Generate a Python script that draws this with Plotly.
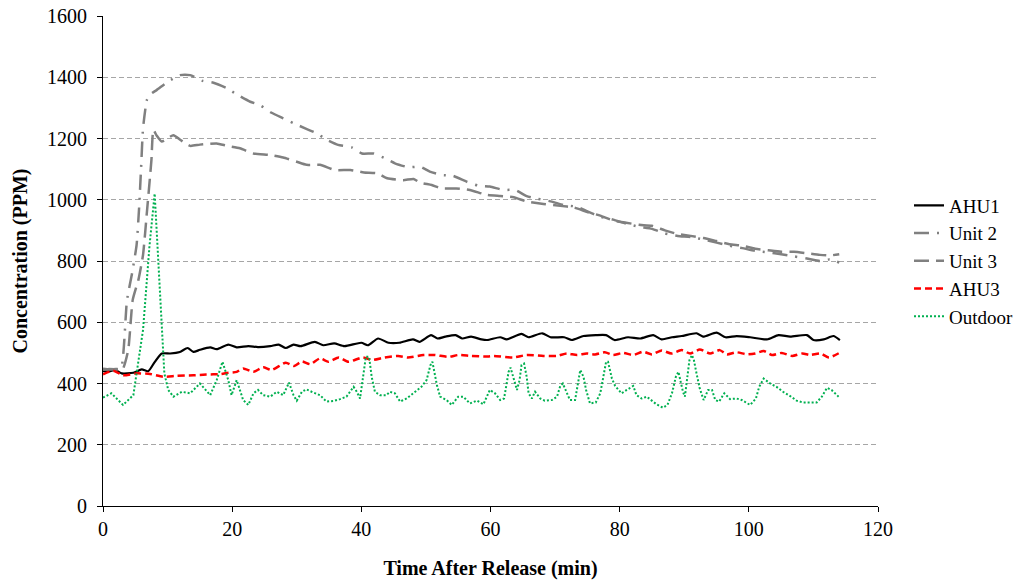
import plotly.graph_objects as go

# ---------------- data ----------------
ahu1_t = [0, 1, 1.9, 2.9, 4.7, 6, 7, 8, 9.1, 10.4, 11.9, 13.1, 14, 15, 16.6, 17.6, 19.4, 20.7, 22.5, 24, 25.9,
          27.2, 28.3, 29.5, 30.6, 32.8, 34.1, 35.8, 37.4, 40, 41, 42.6, 44.2, 45.9, 48, 49, 50.8, 51.8, 53, 54.6,
          55.6, 57, 58.6, 59.5, 61.5, 62.5, 64.8, 65.9, 68, 69.3, 71.4, 72.6, 74.4, 76.3, 77.9, 79.2, 81.3, 83.2,
          85.2, 86.5, 88.1, 89.6, 91.9, 92.9, 95, 96.4, 98.1, 100.2, 102.8, 104.6, 106.4, 109, 110, 111.6, 113.1, 114.1]
ahu1_v = [440, 440, 444, 433, 435, 446, 440, 470, 498, 498, 503, 516, 503, 510, 518, 512, 527, 518, 522, 519, 522,
          527, 516, 527, 522, 536, 525, 531, 522, 533, 525, 547, 533, 533, 544, 536, 558, 547, 553, 558,
          547, 553, 544, 542, 551, 544, 562, 551, 564, 551, 551, 542, 555, 558, 558, 542, 551, 547,
          558, 544, 551, 555, 564, 553, 566, 551, 555, 551, 544, 558, 553, 558, 542, 544, 555, 542]

unit2_t = [0, 1, 2, 2.8, 3.7, 4.5, 5.2, 5.6, 5.9, 6.2, 6.8, 7.3, 8.3, 10.1, 11.9, 13.5, 15.3, 17.1, 19.2, 20.7,
           22.8, 24.3, 26.1, 27.9, 29.5, 31.3, 33.1, 34.7, 36.4, 38.5, 40.1, 41.9, 43.7, 45.2, 47.3, 49.1, 50.6,
           52.4, 54.2, 56.3, 58.1, 59.9, 62, 63.8, 65.6, 67.1, 69.5, 71.3, 73.4, 75, 77, 79, 81, 83, 85, 87, 89,
           91, 93, 95, 97, 99, 101, 103, 105, 107, 109, 111, 112.5, 114]
unit2_v = [448, 446, 447, 450, 670, 760, 852, 977, 1105, 1233, 1326, 1344, 1358, 1386, 1407, 1407, 1389, 1382, 1364, 1344,
           1320, 1309, 1284, 1266, 1250, 1233, 1217, 1195, 1179, 1171, 1151, 1151, 1135, 1119, 1106, 1108, 1092,
           1081, 1078, 1059, 1046, 1043, 1032, 1032, 1012, 1004, 994, 983, 977, 962, 945, 935, 922, 912, 905, 890, 882,
           878, 870, 860, 850, 842, 833, 828, 822, 815, 808, 800, 805, 795]

unit3_t = [0, 1, 2, 3, 3.9, 4.6, 5.5, 6.2, 6.8, 7.3, 7.5, 7.8, 8.3, 9.1, 10.9, 12, 13.5, 15, 17.6, 19.2, 21.2, 23.3,
           25.9, 27.9, 30, 31.5, 33.6, 35.9, 38.3, 40.4, 42.5, 44, 46.5, 48.1, 49.1, 50.9, 52.4, 54.7, 56.8, 59.4,
           61.5, 63.6, 65.6, 68.2, 70.8, 72.9, 75, 77, 79, 81, 83, 85, 87, 89, 91, 93, 95, 97, 99, 101, 103, 105,
           107, 109, 111, 112.5, 114]
unit3_v = [445, 447, 446, 445, 509, 673, 740, 820, 960, 1080, 1130, 1228, 1210, 1190, 1211, 1195, 1176, 1180, 1184, 1176, 1168, 1151,
           1146, 1138, 1124, 1114, 1114, 1097, 1097, 1089, 1086, 1070, 1064, 1068, 1056, 1048, 1037, 1037, 1032, 1016,
           1012, 1008, 994, 986, 980, 975, 960, 948, 932, 925, 918, 915, 900, 888, 882, 875, 865, 855, 850, 840, 835, 830,
           830, 825, 820, 818, 822]

ahu3_t = [0, 1.6, 3.1, 5.2, 7.3, 9.3, 11.4, 14, 16, 18.2, 19.4, 20.7, 21.7, 23.3, 24.8, 26.1, 28.3, 29.6, 30.8, 32.1,
          33.6, 34.9, 36.5, 38, 40.2, 41.7, 43.6, 45.7, 47.2, 49.6, 51.4, 53.5, 55, 57, 59.6, 60.5, 63.5, 65.6, 68.2,
          70.3, 71.8, 73.4, 74.9, 76.2, 77.7, 79, 80.5, 82.1, 83.6, 85, 86.5, 88, 89.6, 90.9, 92.4, 94, 95.5, 96.6,
          98.1, 99.7, 101, 102.3, 103.6, 105.1, 106.7, 108.3, 109.5, 111.1, 112.4, 114.2]
ahu3_v = [430, 442, 427, 433, 431, 422, 425, 427, 429, 431, 435, 438, 449, 438, 453, 444, 468, 457, 472, 463,
          482, 471, 485, 471, 485, 477, 485, 490, 485, 493, 493, 487, 493, 490, 488, 490, 485, 493, 490,
          490, 498, 493, 498, 495, 502, 493, 500, 493, 504, 495, 508, 498, 509, 498, 511, 498, 509, 495,
          502, 495, 498, 506, 493, 500, 490, 498, 493, 498, 485, 502]

outdoor_t = [0, 1.3, 3.1, 4.7, 6.2, 7.2, 8.0, 8.6, 9.1, 9.5, 10.1, 10.9, 12.2, 13.5, 15, 16.6, 17.6, 18.5, 19.4, 19.9,
             20.7, 21.7, 22.5, 23.3, 24, 24.8, 25.9, 26.9, 27.9, 28.8, 29.5, 30, 30.8, 31.5, 32.3, 33.6, 34.6, 35.7,
             36.7, 37.7, 38.8, 39.3, 39.8, 40.3, 40.7, 41.2, 41.6, 42.1, 42.9, 43.9, 44.4, 45.2, 46, 47, 48, 49.3,
             50.1, 50.7, 51, 51.7, 52.2, 53.2, 54, 55, 55.8, 56.8, 57.9, 58.9, 59.9, 60.7, 61.5, 62.1, 62.5, 62.8,
             63.1, 63.5, 64.1, 64.5, 64.8, 65.2, 65.6, 65.9, 66.4, 66.9, 67.7, 68.4, 69.5, 70.3, 70.8, 71.2, 71.7,
             72.3, 73.1, 73.6, 73.9, 74.4, 74.8, 75.4, 76.3, 77, 77.5, 77.9, 78.2, 78.8, 79.3, 80.3, 81.1, 82.1,
             82.6, 83.4, 84.2, 85, 85.7, 86.7, 87.4, 88.1, 88.7, 89.1, 89.5, 89.8, 90.1, 90.5, 90.8, 91.2, 91.5,
             91.9, 92.4, 93, 93.7, 94.3, 94.8, 95.4, 96.2, 97.1, 98.1, 98.9, 100.2, 101.1, 101.6, 102.3, 103.3,
             104.3, 105.3, 106.4, 107.4, 108.4, 109.5, 110.5, 111.3, 112.1, 112.8, 113.9]
outdoor_v = [354, 368, 330, 362, 575, 850, 1020, 800, 575, 433, 379, 357, 373, 368, 400, 362, 411, 471, 411, 362,
             411, 346, 330, 368, 379, 362, 357, 373, 362, 403, 362, 344, 373, 381, 373, 362, 341, 343,
             349, 357, 389, 373, 351, 422, 487, 487, 422, 373, 362, 362, 373, 368, 341, 351, 368, 389,
             411, 460, 471, 395, 357, 346, 330, 357, 357, 335, 344, 332, 379, 368, 346, 351, 400, 438,
             452, 422, 379, 411, 460, 465, 422, 368, 351, 373, 351, 344, 346, 357, 392, 400, 373,
             346, 346, 400, 444, 422, 379, 335, 338, 368, 433, 471, 471, 416, 392, 368, 379, 392,
             362, 351, 357, 344, 332, 321, 330, 368, 422, 438, 400, 373, 357, 422, 476, 493, 476,
             433, 384, 346, 379, 379, 346, 341, 368, 349, 351, 346, 330, 351, 389, 416, 400,
             389, 373, 359, 344, 338, 338, 338, 357, 386, 379, 357]

x_ticks = [0, 20, 40, 60, 80, 100, 120]
y_ticks = [0, 200, 400, 600, 800, 1000, 1200, 1400, 1600]

FONT = "Liberation Serif"

fig = go.Figure()
fig.add_trace(go.Scatter(x=ahu1_t, y=ahu1_v, name="AHU1", mode="lines", legendgroup="a",
                         line=dict(color="#000000", width=2.2, shape="spline", smoothing=0.6)))
fig.add_trace(go.Scatter(x=unit2_t, y=unit2_v, name="Unit 2", mode="lines", legendgroup="b",
                         line=dict(color="#808080", width=2.5, dash="15px,8px,2px,8px", shape="spline", smoothing=0.5)))
fig.add_trace(go.Scatter(x=unit3_t, y=unit3_v, name="Unit 3", mode="lines", legendgroup="c",
                         line=dict(color="#808080", width=2.5, dash="15px,7px", shape="spline", smoothing=0.5)))
fig.add_trace(go.Scatter(x=ahu3_t, y=ahu3_v, name="AHU3", mode="lines", legendgroup="d",
                         line=dict(color="#ff0000", width=2.5, dash="7px,4px", shape="spline", smoothing=0.6)))
fig.add_trace(go.Scatter(x=outdoor_t, y=outdoor_v, name="Outdoor", mode="lines", legendgroup="e",
                         line=dict(color="#00b050", width=2, dash="2px,2px")))

fig.update_layout(
    width=1031, height=583,
    margin=dict(l=103, r=153, t=16, b=77, autoexpand=False),
    paper_bgcolor="white", plot_bgcolor="white",
    font=dict(family=FONT, size=20, color="black"),
    showlegend=True,
    legend=dict(x=1.04, y=0.5, xanchor="left", yanchor="middle",
                font=dict(family=FONT, size=19, color="black"),
                tracegroupgap=0, bgcolor="rgba(0,0,0,0)"),
    xaxis=dict(range=[0, 120], tickvals=x_ticks, ticktext=[str(v) for v in x_ticks],
               showgrid=False, zeroline=False, showline=True, linecolor="black", linewidth=1,
               ticks="outside", ticklen=5, tickcolor="black", automargin=False,
               tickfont=dict(family=FONT, size=20),
               title=dict(text="<b>Time After Release (min)</b>", font=dict(family=FONT, size=20), standoff=21)),
    yaxis=dict(range=[0, 1600], tickvals=y_ticks, ticktext=[str(v) for v in y_ticks],
               showgrid=True, gridcolor="#a6a6a6", gridwidth=1, griddash="5px,3px",
               zeroline=False, showline=True, linecolor="black", linewidth=1,
               ticks="outside", ticklen=5, tickcolor="black", ticklabelstandoff=6, automargin=False,
               tickfont=dict(family=FONT, size=20),
               title=dict(text="<b>Concentration (PPM)</b>", font=dict(family=FONT, size=20), standoff=14)),
)

fig.write_html("out.html")
